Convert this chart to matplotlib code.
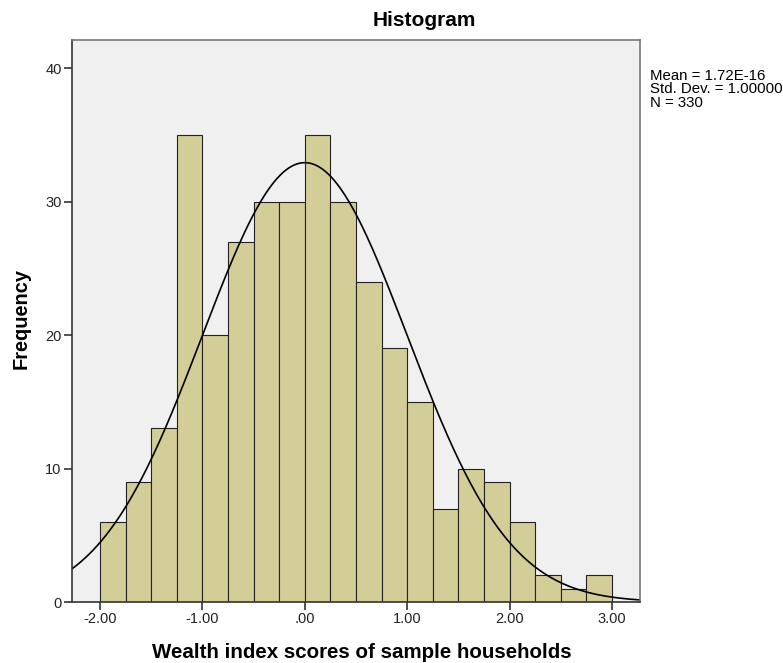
import numpy as np
import matplotlib.pyplot as plt

plt.rcParams['font.family'] = ['Liberation Sans', 'DejaVu Sans']

# histogram data
bin_edges = [-2.0, -1.75, -1.5, -1.25, -1.0, -0.75, -0.5, -0.25, 0.0, 0.25,
             0.5, 0.75, 1.0, 1.25, 1.5, 1.75, 2.0, 2.25, 2.5, 2.75, 3.0]
counts = [6, 9, 13, 35, 20, 27, 30, 30, 35, 30,
          24, 19, 15, 7, 10, 9, 6, 2, 1, 2]
mean = 1.72e-16
sd = 1.0
n = 330
xticks = [-2, -1, 0, 1, 2, 3]
xtick_labels = ['-2.00', '-1.00', '.00', '1.00', '2.00', '3.00']
yticks = [0, 10, 20, 30, 40]

fig = plt.figure(figsize=(7.83, 6.63), dpi=100)
ax = fig.add_axes([72 / 783, 61 / 663, 568 / 783, 562 / 663])
ax.set_facecolor('#f0f0f0')

left = np.array(bin_edges[:-1])
widths = np.diff(bin_edges)
ax.bar(left, counts, width=widths, align='edge', color='#d3ce98',
       edgecolor='#222222', linewidth=0.8)

# fitted normal curve
xlim = (-2.273, 3.273)
xs = np.linspace(xlim[0], xlim[1], 400)
bw = widths[0]
ys = n * bw / (sd * np.sqrt(2 * np.pi)) * np.exp(-0.5 * ((xs - mean) / sd) ** 2)
ax.plot(xs, ys, color='black', linewidth=1.2)

ax.set_xlim(*xlim)
ax.set_ylim(0, 42.1)
ax.set_xticks(xticks)
ax.set_xticklabels(xtick_labels)
ax.set_yticks(yticks)
ax.tick_params(axis='both', direction='out', length=6, width=1.2, labelsize=10.5,
               pad=1.5, color='#333333', labelcolor='#222222')
for s in ['left', 'bottom']:
    ax.spines[s].set_color('#333333')
    ax.spines[s].set_linewidth(1.2)
for s in ['top', 'right']:
    ax.spines[s].set_color('#777777')
    ax.spines[s].set_linewidth(1.2)

fig.text(424 / 783, 1 - 21 / 663, 'Histogram', ha='center', va='center',
         fontsize=15, fontweight='bold')
fig.text(362 / 783, 1 - 652 / 663, 'Wealth index scores of sample households',
         ha='center', va='center', fontsize=14.8, fontweight='bold')
fig.text(21 / 783, 1 - 318 / 663, 'Frequency', ha='center', va='center',
         rotation=90, fontsize=14.4, fontweight='bold')
fig.text(650 / 783, 1 - 69 / 663,
         'Mean = 1.72E-16\nStd. Dev. = 1.00000\nN = 330',
         ha='left', va='top', fontsize=10.8, linespacing=0.95)

fig.savefig('out.png', dpi=100)
